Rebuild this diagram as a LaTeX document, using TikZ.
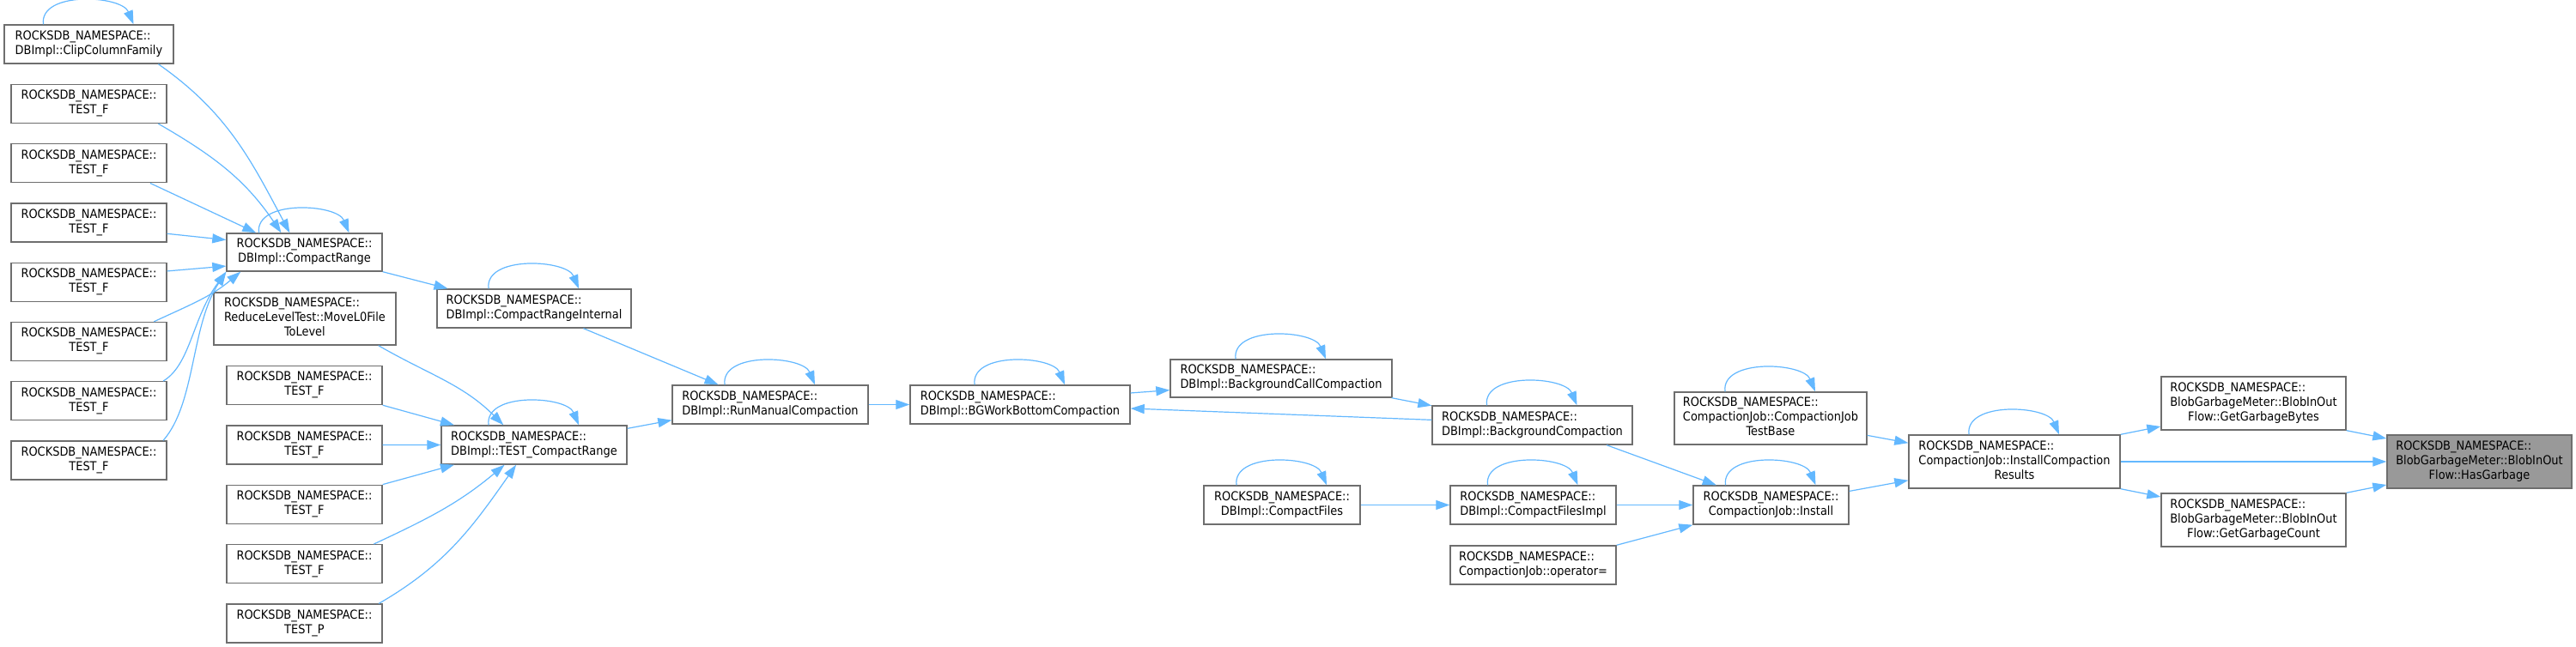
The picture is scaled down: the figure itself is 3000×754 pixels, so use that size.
\documentclass[tikz,border=0pt]{standalone}
\usepackage{fontspec}
\setmainfont{DejaVu Sans Condensed}
\usetikzlibrary{arrows.meta,calc}
\definecolor{callblue}{RGB}{99,184,255}
\definecolor{boxgray}{RGB}{110,110,110}
\definecolor{focusgray}{RGB}{153,153,153}
\newcommand{\fnlbl}[1]{\begin{tabular}{@{}l@{}}ROCKSDB\_NAMESPACE::\\\multicolumn{1}{@{}c@{}}{#1}\end{tabular}}
\newcommand{\fnlblx}[2]{\begin{tabular}{@{}l@{}}ROCKSDB\_NAMESPACE::\\#1\\\multicolumn{1}{@{}c@{}}{#2}\end{tabular}}

\begin{document}
\begin{tikzpicture}[x=0.5pt,y=0.5pt,font=\fontsize{7.2}{8.5}\selectfont,
  fn/.style={draw=boxgray,fill=white,line width=0.7pt,inner sep=0pt,minimum height=22.5pt},
  call/.style={draw=callblue,line width=0.6pt,-{Triangle[length=8pt,width=5.5pt]}}]
  \fill[white] (0,0) rectangle (3000,-754);
  \useasboundingbox (0,0) rectangle (3000,-754);

  \node[fn,minimum width=98.5pt] (clip) at (103.5,-51.5) {\fnlbl{DBImpl::ClipColumnFamily}};
  \foreach \i/\y in {1/121,2/190.25,3/259.5,4/328.75,5/398,6/467.25,7/536.5}
    \node[fn,minimum width=90.5pt] (tfl\i) at (103.5,-\y) {\fnlbl{TEST\_F}};
  \node[fn,minimum width=90.5pt,minimum height=22pt] (cr) at (354.5,-294) {\fnlbl{DBImpl::CompactRange}};
  \node[fn,minimum width=106pt,minimum height=30.5pt] (rlt) at (355,-371.5) {\fnlblx{ReduceLevelTest::MoveL0File}{ToLevel}};
  \foreach \i/\y in {1/449,2/518.4,3/587.8,4/657.2}
    \node[fn,minimum width=90.5pt] (tfm\i) at (354.5,-\y) {\fnlbl{TEST\_F}};
  \node[fn,minimum width=90.5pt] (tp) at (354.5,-726.6) {\fnlbl{TEST\_P}};
  \node[fn,minimum width=113pt] (cri) at (622,-359.5) {\fnlbl{DBImpl::CompactRangeInternal}};
  \node[fn,minimum width=108pt] (tcr) at (622,-518.5) {\fnlbl{DBImpl::TEST\_CompactRange}};
  \node[fn,minimum width=114pt] (rmc) at (897,-471.5) {\fnlbl{DBImpl::RunManualCompaction}};
  \node[fn,minimum width=128pt] (bgw) at (1188,-471.5) {\fnlbl{DBImpl::BGWorkBottomCompaction}};
  \node[fn,minimum width=129pt,minimum height=22pt] (bcc) at (1492,-441) {\fnlbl{DBImpl::BackgroundCallCompaction}};
  \node[fn,minimum width=116.5pt] (bgc) at (1784.5,-495.5) {\fnlbl{DBImpl::BackgroundCompaction}};
  \node[fn,minimum width=91pt] (cf) at (1493,-588.5) {\fnlbl{DBImpl::CompactFiles}};
  \node[fn,minimum width=96.5pt] (cfi) at (1785.5,-588.5) {\fnlbl{DBImpl::CompactFilesImpl}};
  \node[fn,minimum width=96.5pt] (opq) at (1785.5,-658.5) {\fnlbl{CompactionJob::operator=}};
  \node[fn,minimum width=112pt,minimum height=30.5pt] (cjt) at (2062,-487.5) {\fnlblx{CompactionJob::CompactionJob}{TestBase}};
  \node[fn,minimum width=90.5pt] (ins) at (2062.5,-588.5) {\fnlbl{CompactionJob::Install}};
  \node[fn,minimum width=123pt,minimum height=31pt] (icr) at (2346,-538) {\fnlblx{CompactionJob::InstallCompaction}{Results}};
  \node[fn,minimum width=107.5pt,minimum height=31pt] (ggb) at (2624.5,-470) {\fnlblx{BlobGarbageMeter::BlobInOut}{Flow::GetGarbageBytes}};
  \node[fn,minimum width=107.5pt,minimum height=31pt] (ggc) at (2624.5,-606) {\fnlblx{BlobGarbageMeter::BlobInOut}{Flow::GetGarbageCount}};
  \node[fn,fill=focusgray,minimum width=107.5pt,minimum height=31pt] (hg) at (2887.5,-538) {\fnlblx{BlobGarbageMeter::BlobInOut}{Flow::HasGarbage}};

  \foreach \n in {clip,cr,cri,tcr,rmc,bgw,bcc,bgc,cf,cfi,cjt,ins,icr}
    \draw[call] ($(\n.north)+(-53,0)$) .. controls +(-5,39) and +(-14,34) .. ($(\n.north)+(52,0)$);

  \draw[call] (clip.-16) to[out=-35,in=118] (cr.127);
  \draw[call] (tfl1.-16) to[out=-30,in=124] (cr.140);
  \draw[call] (tfl2.-18) -- (cr.158);
  \draw[call] (tfl3.-8) -- (cr.171);
  \draw[call] (tfl4.8) -- (cr.190);
  \draw[call] (tfl5.17) to[out=25,in=-140] (cr.197);
  \draw[call] (tfl6.15) .. controls (222,-425) and (224,-370) .. (cr.194);
  \draw[call] (tfl7.15) .. controls (228,-470) and (222,-380) .. (cr.south west);
  \draw[call] (cr.south east) -- (cri.167);
  \draw[call] (cri.-22) -- (rmc.159);
  \draw[call] (rlt.-20) to[out=-30,in=135] (tcr.147);
  \draw[call] (tfm1.south east) -- (tcr.166);
  \draw[call] (tfm2.east) -- (tcr.west);
  \draw[call] (tfm3.north east) -- (tcr.194);
  \draw[call] (tfm4.16) to[out=25,in=-140] (tcr.214);
  \draw[call] (tp.15) to[out=30,in=-125] (tcr.228);
  \draw[call] (tcr.10) -- (rmc.189);
  \draw[call] (rmc.east) -- (bgw.west);
  \draw[call] (bgw.6) -- (bcc.186);
  \draw[call] (bcc.-10) -- (bgc.169);
  \draw[call] (bgc.177) -- (bgw.-2);
  \draw[call] (bgc.-15) -- (ins.160);
  \draw[call] (cf.east) -- (cfi.west);
  \draw[call] (cfi.east) -- (ins.west);
  \draw[call] (opq.north east) -- (ins.south west);
  \draw[call] (cjt.-10) -- (icr.170);
  \draw[call] (ins.10) -- (icr.190);
  \draw[call] (icr.north east) -- (ggb.194);
  \draw[call] (icr.east) -- (hg.west);
  \draw[call] (icr.south east) -- (ggc.166);
  \draw[call] (ggb.south east) -- (hg.166);
  \draw[call] (ggc.north east) -- (hg.194);
\end{tikzpicture}
\end{document}
